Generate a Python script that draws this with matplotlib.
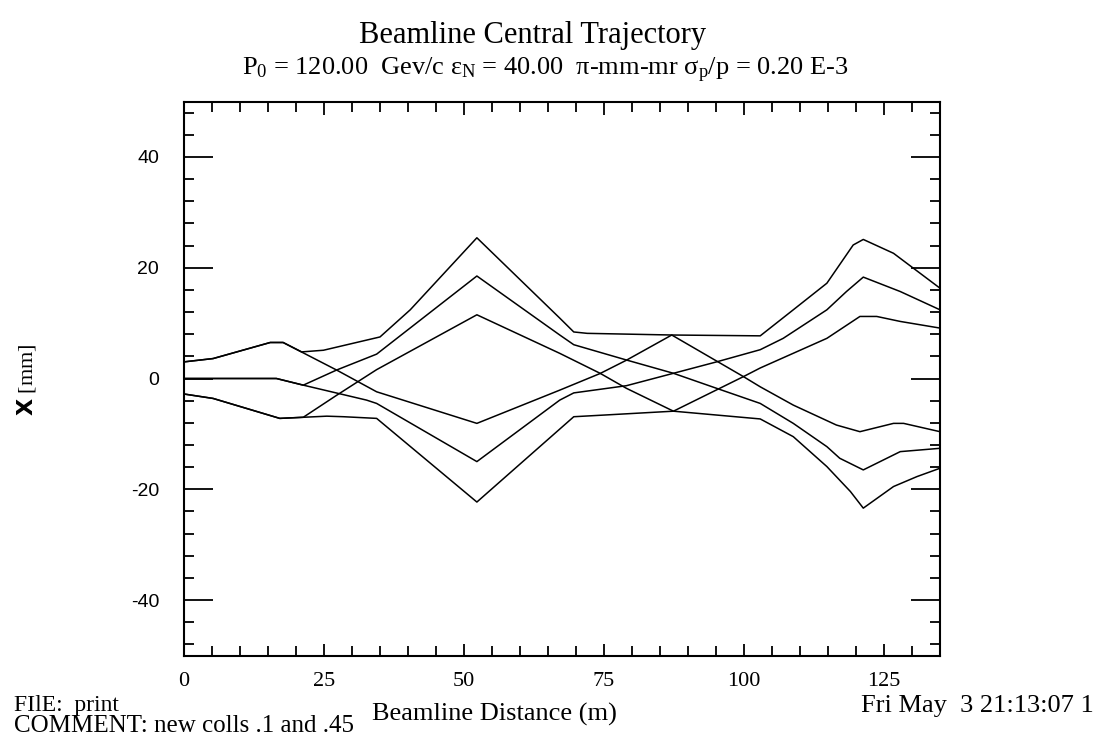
import numpy as np
import matplotlib
matplotlib.use("Agg")
import matplotlib.pyplot as plt
from matplotlib.ticker import MultipleLocator

plt.rcParams['font.family'] = ['Liberation Serif', 'DejaVu Sans']
plt.rcParams['mathtext.fontset'] = 'custom'
plt.rcParams['mathtext.rm'] = 'Liberation Serif'
plt.rcParams['mathtext.it'] = 'Liberation Serif:italic'
plt.rcParams['axes.unicode_minus'] = False

# beamline distance (m) / horizontal position (mm) for each ray
s1 = [0, 5.2, 15.4, 17.7, 21.0, 24.9, 35.0, 40.4, 52.3, 67.1, 69.6, 72.0, 87.1, 99.9, 102.9, 108.8, 116.5, 120.7, 126.7, 128.5, 135]
x1 = [3.0, 3.6, 6.5, 6.5, 4.8, 5.1, 7.5, 12.4, 25.4, 10.9, 8.4, 8.15, 7.85, 0.34, -1.5, -4.8, -8.4, -9.6, -8.1, -8.1, -9.6]

s2 = [0, 5.2, 15.4, 17.7, 27.3, 34.4, 52.3, 67.1, 74.3, 79.0, 87.1, 102.9, 108.8, 114.8, 119.5, 121.3, 126.7, 135]
x2 = [3.0, 3.6, 6.5, 6.5, 1.5, -2.4, -8.1, -2.1, 0.9, 3.3, 7.85, 7.7, 12.4, 17.2, 24.1, 25.1, 22.6, 16.3]

s3 = [0, 16.5, 21.3, 32.6, 34.4, 52.3, 67.1, 69.6, 79.0, 87.4, 95.1, 102.9, 107.0, 114.8, 118.3, 121.3, 127.9, 135]
x3 = [0, 0, -1.2, -3.9, -4.5, -15.0, -3.9, -2.6, -1.3, 0.94, 3.0, 5.2, 7.25, 12.4, 15.7, 18.3, 15.7, 12.4]

s4 = [0, 16.5, 21.3, 27.3, 34.4, 52.3, 67.1, 69.6, 79.0, 87.4, 95.1, 102.9, 108.8, 114.8, 117.1, 121.3, 127.9, 135]
x4 = [0, 0, -1.2, 1.55, 4.4, 18.5, 7.85, 6.1, 3.34, 0.94, -1.77, -4.5, -8.1, -12.3, -14.4, -16.5, -13.2, -12.6]

s5 = [0, 5.2, 17.1, 21.3, 27.3, 34.4, 52.3, 67.1, 74.3, 79.0, 87.4, 102.9, 108.8, 114.8, 119.0, 121.3, 126.7, 130.9, 135]
x5 = [-2.8, -3.6, -7.2, -7.0, -3.0, 1.6, 11.5, 4.54, 0.94, -1.77, -5.9, -7.3, -10.5, -15.9, -20.4, -23.4, -19.5, -17.7, -16.2]

s6 = [0, 5.2, 17.1, 21.3, 25.5, 28.5, 34.4, 52.3, 69.6, 75.0, 87.4, 99.9, 102.9, 114.8, 120.7, 123.7, 127.9, 135]
x6 = [-2.8, -3.6, -7.2, -7.0, -6.8, -6.9, -7.2, -22.3, -6.9, -6.6, -5.9, 0.34, 1.9, 7.25, 11.2, 11.2, 10.3, 9.1]

rays = [(s1, x1), (s2, x2), (s3, x3), (s4, x4), (s5, x5), (s6, x6)]

fig = plt.figure(figsize=(10.96, 7.40), dpi=100)
ax = fig.add_axes([184/1096, 1-655.5/740, 756/1096, 554/740])

for s, x in rays:
    ax.plot(s, x, color='black', lw=1.1)

ax.set_xlim(0, 135)
ax.set_ylim(-50, 50)
ax.xaxis.set_major_locator(MultipleLocator(25))
ax.xaxis.set_minor_locator(MultipleLocator(5))
ax.yaxis.set_major_locator(MultipleLocator(20))
ax.yaxis.set_minor_locator(MultipleLocator(4))
ax.tick_params(which='both', direction='in', top=True, right=True, width=1.3, color='black')
ax.tick_params(axis='x', which='major', length=9, labelsize=16, pad=12)
ax.tick_params(axis='x', which='minor', length=7)
ax.tick_params(axis='y', which='major', length=21, labelsize=14, pad=18)
ax.tick_params(axis='y', which='minor', length=7)
for lab in ax.get_yticklabels():
    lab.set_family('Liberation Sans')
for sp in ax.spines.values():
    sp.set_linewidth(1.5)

fig.text(533/1096, 1-35/740, 'Beamline Central Trajectory', ha='center', va='center', fontsize=22)
fig.text(545/1096, 1-70/740,
         r'P$_\mathrm{0}$ = 120.00  Gev/c ε$_\mathrm{N}$ = 40.00  π-mm-mr σ$_\mathrm{p}$/p = 0.20 E-3',
         ha='center', va='center', fontsize=19)
fig.text(27/1096, 1-380/740, r'$\mathbf{X}$ [mm]', rotation=90, ha='center', va='center', fontsize=16)
fig.text(494/1096, 1-714/740, 'Beamline Distance (m)', ha='center', va='center', fontsize=19)
fig.text(14/1096, 1-705/740, 'FIlE:  print', ha='left', va='center', fontsize=17)
fig.text(14/1096, 1-726/740, 'COMMENT: new colls .1 and .45', ha='left', va='center', fontsize=18)
fig.text(861/1096, 1-706/740, 'Fri May  3 21:13:07 1', ha='left', va='center', fontsize=19)

fig.savefig('out.png', dpi=100)
